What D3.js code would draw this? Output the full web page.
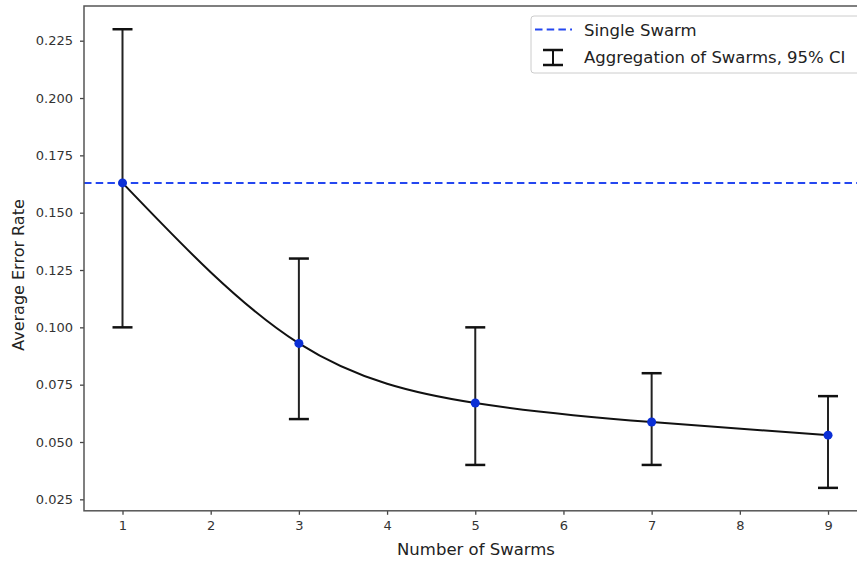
<!DOCTYPE html>
<html>
<head>
<meta charset="utf-8">
<script src="https://cdn.jsdelivr.net/npm/d3@7"></script>
<style>
  html, body { margin: 0; padding: 0; background: #fff; }
  svg { display: block; font-family: "DejaVu Sans", sans-serif; }
</style>
</head>
<body>
<svg id="chart" width="857" height="563"></svg>
<script>
// ---- data ----
const swarms = [1, 3, 5, 7, 9];
const errorRate = [0.163, 0.093, 0.067, 0.0587, 0.053];
const ciLow = [0.100, 0.060, 0.040, 0.040, 0.030];
const ciHigh = [0.230, 0.130, 0.100, 0.080, 0.070];
const singleSwarm = 0.163;
const xTicks = [1, 2, 3, 4, 5, 6, 7, 8, 9];
const yTicks = [0.025, 0.050, 0.075, 0.100, 0.125, 0.150, 0.175, 0.200, 0.225];
const legendLabels = ["Single Swarm", "Aggregation of Swarms, 95% CI"];
const xLabel = "Number of Swarms";
const yLabel = "Average Error Rate";

(function () {
const svg = d3.select("#chart");
const mLeft = 84, mTop = 6, mBottom = 510.8;
const x = d3.scaleLinear().domain([0.5634, 9.4]).range([mLeft, mLeft + 8.8366 * 88.19]);
const y = d3.scaleLinear().domain([0.02, 0.24]).range([mBottom, 6.3]);
const mRight = x.range()[1];

const plot = svg.append("g");

// error bars
const ebColor = "#111";
swarms.forEach((s, i) => {
  const cx = x(s);
  plot.append("line").attr("x1", cx).attr("x2", cx)
    .attr("y1", y(ciLow[i])).attr("y2", y(ciHigh[i]))
    .attr("stroke", "#222").attr("stroke-width", 2);
  [ciLow[i], ciHigh[i]].forEach(v => {
    plot.append("line").attr("x1", cx - 10).attr("x2", cx + 10)
      .attr("y1", y(v)).attr("y2", y(v))
      .attr("stroke", ebColor).attr("stroke-width", 2.5);
  });
});

// fitted curve
const pts = swarms.map((s, i) => [s, errorRate[i]]);
plot.append("path")
  .datum(pts)
  .attr("fill", "none")
  .attr("stroke", "#111")
  .attr("stroke-width", 2)
  .attr("d", d3.line().x(d => x(d[0])).y(d => y(d[1])).curve(d3.curveNatural));

// single swarm line
plot.append("line")
  .attr("x1", mLeft).attr("x2", mRight)
  .attr("y1", y(singleSwarm)).attr("y2", y(singleSwarm))
  .attr("stroke", "#2447f0").attr("stroke-width", 2)
  .attr("stroke-dasharray", "7.5,4.2");

// points
plot.selectAll("circle.pt").data(pts).enter().append("circle")
  .attr("cx", d => x(d[0])).attr("cy", d => y(d[1])).attr("r", 4.5)
  .attr("fill", "#0b2fd6");

// axes
const xAxis = d3.axisBottom(x).tickValues(xTicks).tickSize(4).tickPadding(6).tickFormat(d3.format("d"));
const yAxis = d3.axisLeft(y).tickValues(yTicks).tickSize(4).tickPadding(7).tickFormat(d3.format(".3f"));

const gx = svg.append("g").attr("transform", `translate(0,${mBottom})`).call(xAxis);
const gy = svg.append("g").attr("transform", `translate(${mLeft},0)`).call(yAxis);
[gx, gy].forEach(g => {
  g.select(".domain").remove();
  g.selectAll(".tick line").attr("stroke", "#444").attr("stroke-width", 1.3);
  g.selectAll(".tick text").attr("fill", "#333").style("font-size", "13px")
    .style("font-family", "DejaVu Sans, sans-serif");
});

// frame
svg.append("rect")
  .attr("x", mLeft).attr("y", mTop)
  .attr("width", mRight - mLeft).attr("height", mBottom - mTop)
  .attr("fill", "none").attr("stroke", "#555").attr("stroke-width", 1.5);

// axis labels
svg.append("text")
  .attr("x", 476).attr("y", 555)
  .attr("text-anchor", "middle")
  .attr("fill", "#222")
  .style("font-size", "16.5px")
  .text(xLabel);
svg.append("text")
  .attr("transform", "translate(24,275) rotate(-90)")
  .attr("text-anchor", "middle")
  .attr("fill", "#222")
  .style("font-size", "16px")
  .text(yLabel);

// legend
const lg = svg.append("g");
lg.append("rect")
  .attr("x", 531).attr("y", 16).attr("width", 340).attr("height", 57)
  .attr("rx", 3)
  .attr("fill", "#fff").attr("fill-opacity", 0.8)
  .attr("stroke", "#ccc").attr("stroke-width", 1);
lg.append("line")
  .attr("x1", 535).attr("x2", 572).attr("y1", 29.5).attr("y2", 29.5)
  .attr("stroke", "#2447f0").attr("stroke-width", 2)
  .attr("stroke-dasharray", "7.5,4.2");
lg.append("line").attr("x1", 553).attr("x2", 553).attr("y1", 50).attr("y2", 65)
  .attr("stroke", "#111").attr("stroke-width", 2);
[50, 65].forEach(v => lg.append("line").attr("x1", 543).attr("x2", 563)
  .attr("y1", v).attr("y2", v).attr("stroke", "#111").attr("stroke-width", 2.5));
lg.selectAll("text.lab").data(legendLabels).enter().append("text")
  .attr("x", 584).attr("y", (d, i) => 36 + i * 26.5)
  .attr("fill", "#222")
  .style("font-size", "16.5px")
  .text(d => d);
})();
</script>
</body>
</html>
